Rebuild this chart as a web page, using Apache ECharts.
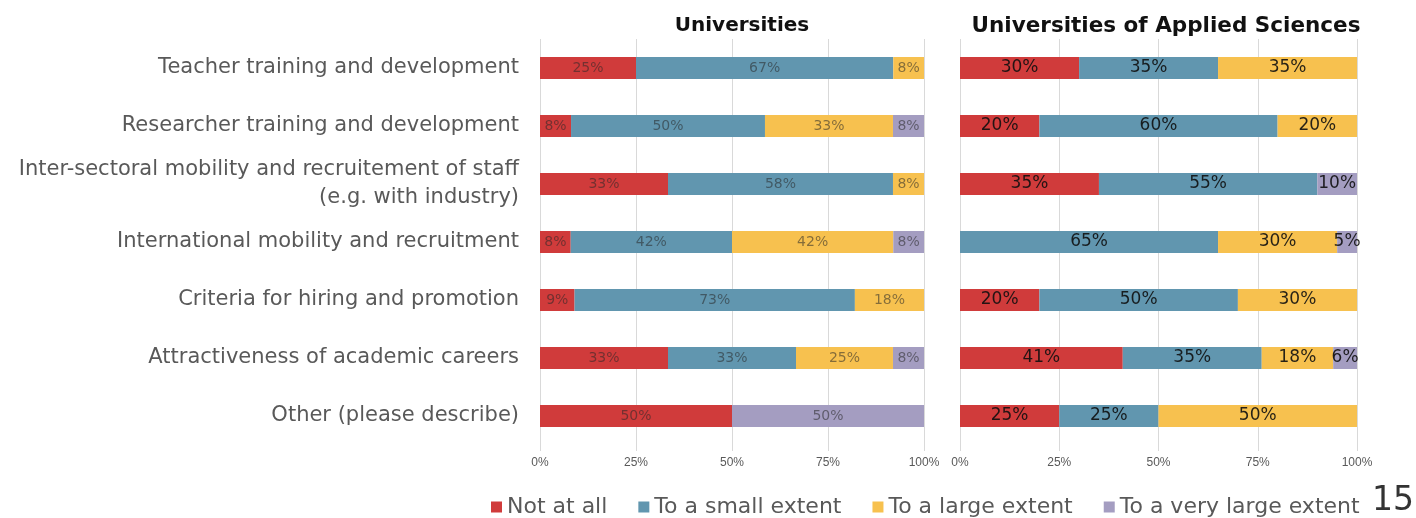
<!DOCTYPE html>
<html>
<head>
<meta charset="utf-8">
<script src="https://cdn.jsdelivr.net/npm/echarts@6/dist/echarts.min.js"></script>
<style>
  html, body { margin: 0; padding: 0; background: #fff; }
  #main { width: 1416px; height: 518px; }
</style>
</head>
<body>
<div id="main"></div>
<script>
// categories, top to bottom
var categories = [
  'Teacher training and development',
  'Researcher training and development',
  'Inter-sectoral mobility and recruitement of staff\n(e.g. with industry)',
  'International mobility and recruitment',
  'Criteria for hiring and promotion',
  'Attractiveness of academic careers',
  'Other (please describe)'
];
var seriesNames = ['Not at all', 'To a small extent', 'To a large extent', 'To a very large extent'];

// Universities
var uniNotAtAll   = [25, 8, 33, 8, 9, 33, 50];
var uniSmall      = [67, 50, 58, 42, 73, 33, 0];
var uniLarge      = [8, 33, 8, 42, 18, 25, 0];
var uniVeryLarge  = [0, 8, 0, 8, 0, 8, 50];

// Universities of Applied Sciences
var uasNotAtAll   = [30, 20, 35, 0, 20, 41, 25];
var uasSmall      = [35, 60, 55, 65, 50, 35, 25];
var uasLarge      = [35, 20, 0, 30, 30, 18, 50];
var uasVeryLarge  = [0, 0, 10, 5, 0, 6, 0];

var xTicks = [0, 25, 50, 75, 100];
var colors = ['#D03B3B', '#6196AF', '#F7C14F', '#A49DC1'];
var font = 'DejaVu Sans';

var myChart = echarts.init(document.getElementById('main'));

// 100% stacked: scale each row to its total, keep the printed value for the label
function toPct(groups) {
  return groups.map(function (arr) {
    return arr.map(function (v, i) {
      var tot = 0;
      groups.forEach(function (g) { tot += g[i]; });
      return { value: v / tot * 100, raw: v };
    });
  });
}
var uni = toPct([uniNotAtAll, uniSmall, uniLarge, uniVeryLarge]);
var uas = toPct([uasNotAtAll, uasSmall, uasLarge, uasVeryLarge]);

function xAxisFor(idx) {
  return {
    type: 'value', gridIndex: idx, min: 0, max: 100, interval: 25,
    axisLine: { show: false },
    axisTick: { show: true, length: 6, lineStyle: { color: '#d9d9d9' } },
    splitLine: { lineStyle: { color: '#d9d9d9', width: 1 } },
    axisLabel: {
      color: '#595959', fontSize: 12, fontFamily: 'Liberation Sans Narrow, Liberation Sans', margin: 12,
      formatter: function (v) { return xTicks.indexOf(v) >= 0 ? v + '%' : ''; }
    }
  };
}

var series = [];
seriesNames.forEach(function (name, k) {
  series.push({
    name: name, type: 'bar', stack: 'uni', xAxisIndex: 0, yAxisIndex: 0,
    barWidth: 22, data: uni[k], itemStyle: { color: colors[k] },
    label: {
      show: true, position: 'inside', fontSize: 14, fontFamily: font,
      color: 'rgba(40,40,40,0.55)',
      formatter: function (p) { return p.data.raw ? p.data.raw + '%' : ''; }
    }
  });
  series.push({
    name: name, type: 'bar', stack: 'uas', xAxisIndex: 1, yAxisIndex: 1,
    barWidth: 22, data: uas[k], itemStyle: { color: colors[k] },
    label: {
      show: true, position: 'inside', fontSize: 17, fontFamily: font,
      color: 'rgba(15,15,15,0.9)',
      formatter: function (p) { return p.data.raw ? p.data.raw + '%' : ''; }
    }
  });
});

var option = {
  backgroundColor: '#fff',
  animation: false,
  title: [
    { text: 'Universities', left: 737, top: 11, textAlign: 'center',
      textStyle: { fontSize: 20, fontWeight: 'bold', color: '#111', fontFamily: font } },
    { text: 'Universities of Applied Sciences', left: 1161, top: 10, textAlign: 'center',
      textStyle: { fontSize: 21.5, fontWeight: 'bold', color: '#111', fontFamily: font } }
  ],
  legend: {
    data: seriesNames, left: 486, top: 491, icon: 'rect',
    itemWidth: 11, itemHeight: 11, itemGap: 31,
    textStyle: { fontSize: 22, color: '#595959', fontFamily: font, padding: [0, 0, 0, 0] }
  },
  grid: [
    { left: 540, width: 384, top: 39, height: 406 },
    { left: 960, width: 397, top: 39, height: 406 }
  ],
  xAxis: [xAxisFor(0), xAxisFor(1)],
  yAxis: [
    {
      type: 'category', gridIndex: 0, data: categories, inverse: true,
      axisLine: { show: false }, axisTick: { show: false }, splitLine: { show: false },
      axisLabel: { color: '#595959', fontSize: 21, lineHeight: 28, fontFamily: font, margin: 21, align: 'right' }
    },
    {
      type: 'category', gridIndex: 1, data: categories, inverse: true,
      axisLine: { show: false }, axisTick: { show: false }, axisLabel: { show: false }
    }
  ],
  graphic: [
    { type: 'text', left: 1372, top: 485,
      style: { text: '15', fontSize: 33, fill: '#333', fontFamily: font } }
  ],
  series: series
};

myChart.setOption(option);
window.addEventListener('resize', function () { myChart.resize(); });
</script>
</body>
</html>
